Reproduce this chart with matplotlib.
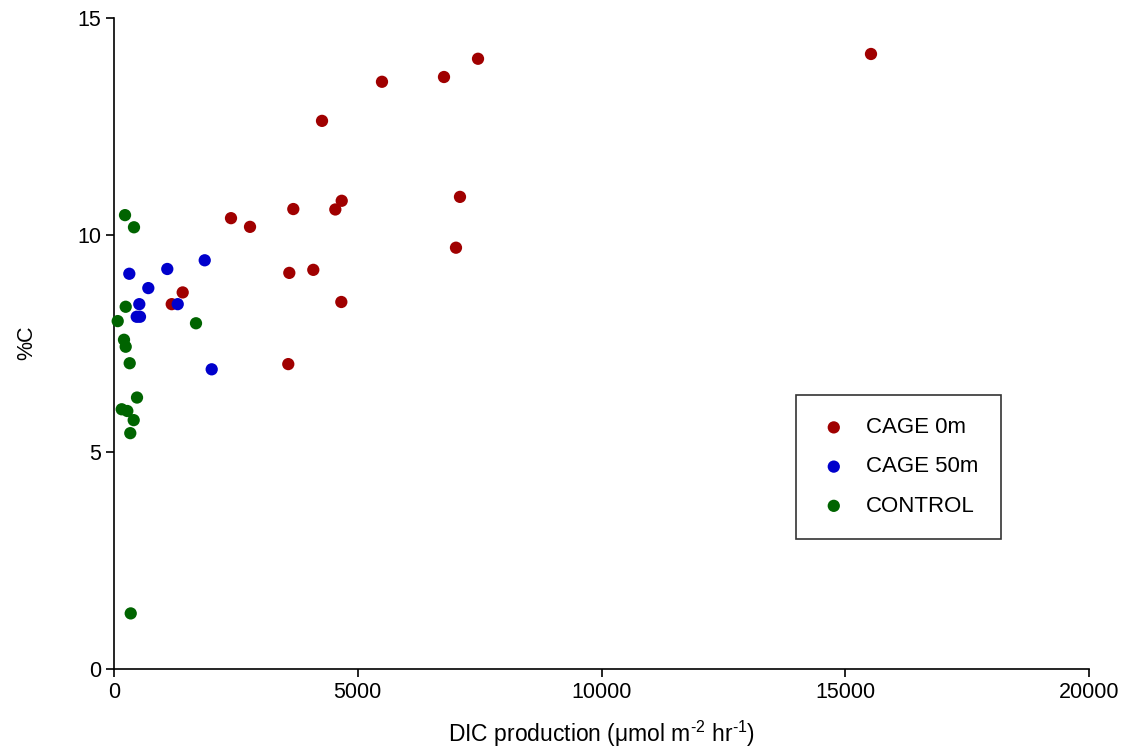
import matplotlib
matplotlib.use("Agg")
import matplotlib.pyplot as plt

plt.rcParams['font.family'] = ['Liberation Sans', 'DejaVu Sans']
plt.rcParams['mathtext.fontset'] = 'custom'
plt.rcParams['mathtext.rm'] = 'Liberation Sans'

# DIC production (umol m-2 hr-1) and %C for each treatment
cage0_dic = [2400, 2790, 3678, 4540, 4671, 3596, 4088, 4663, 1409, 1184,
             3575, 4267, 5497, 6769, 7467, 15528, 7097, 7015]
cage0_pc = [10.38, 10.18, 10.59, 10.58, 10.78, 9.12, 9.19, 8.45, 8.67, 8.40,
            7.02, 12.62, 13.52, 13.63, 14.05, 14.16, 10.87, 9.70]

cage50_dic = [314, 1093, 1861, 704, 519, 466, 533, 1307, 2004]
cage50_pc = [9.10, 9.21, 9.41, 8.77, 8.40, 8.11, 8.11, 8.40, 6.90]

control_dic = [226, 410, 240, 76, 205, 240, 322, 472, 158, 273, 404, 334, 1682, 343]
control_pc = [10.45, 10.17, 8.34, 8.01, 7.58, 7.42, 7.04, 6.25, 5.98, 5.94,
              5.73, 5.43, 7.96, 1.28]

series = [
    ("CAGE 0m", cage0_dic, cage0_pc, "#A00000"),
    ("CAGE 50m", cage50_dic, cage50_pc, "#0000CC"),
    ("CONTROL", control_dic, control_pc, "#006400"),
]

x_ticks = [0, 5000, 10000, 15000, 20000]
y_ticks = [0, 5, 10, 15]

fig = plt.figure(figsize=(11.28, 7.51), dpi=100)
ax = fig.add_axes([114 / 1128, 1 - 669 / 751, (1089 - 114) / 1128, (669 - 17.5) / 751])

for name, xs, ys, col in series:
    ax.scatter(xs, ys, s=78, color=col, edgecolors='none', label=name,
               clip_on=False, zorder=3)

ax.set_xlim(0, 20000)
ax.set_ylim(0, 15)
ax.set_xticks(x_ticks)
ax.set_yticks(y_ticks)
ax.set_xticklabels([str(t) for t in x_ticks])
ax.set_yticklabels([str(t) for t in y_ticks])

for side in ('top', 'right'):
    ax.spines[side].set_visible(False)
for side in ('left', 'bottom'):
    ax.spines[side].set_linewidth(1.2)
ax.tick_params(direction='out', length=5.5, width=1.2, labelsize=15.5, pad=3.5)

ax.set_xlabel(r"DIC production (μmol m$^{\text{-2}}$ hr$^{\text{-1}}$)",
              fontsize=16.5, labelpad=12)
ax.set_ylabel("%C", fontsize=15.5, labelpad=29)

leg = ax.legend(loc='upper left', bbox_to_anchor=(796 / 1128, 1 - 395 / 751),
                bbox_transform=fig.transFigure, fontsize=16, frameon=True,
                fancybox=False, edgecolor='black', borderpad=1.0,
                labelspacing=0.82, handletextpad=0.75, borderaxespad=0,
                handlelength=1.4, scatterpoints=1, markerscale=1.0)
leg.get_frame().set_linewidth(1.2)

fig.savefig("out.png", dpi=100)
